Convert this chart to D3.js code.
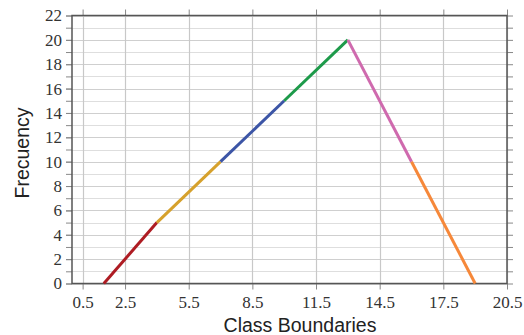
<!DOCTYPE html>
<html>
<head>
<meta charset="utf-8">
<script src="https://cdn.jsdelivr.net/npm/d3@7"></script>
<style>
  html, body { margin: 0; padding: 0; background: #fff; }
  svg { display: block; }
</style>
</head>
<body>
<svg id="chart" width="524" height="335"></svg>
<script>
// Data
const boundaries = [1.5, 4, 7, 10, 13, 16, 19];
const frequencies = [0, 5, 10, 15, 20, 10, 0];
const segmentColors = ["#ae1c23", "#d6a12c", "#3c55a6", "#1d9a4a", "#cf6aae", "#f6883a"];
const xTicks = [0.5, 2.5, 5.5, 8.5, 11.5, 14.5, 17.5, 20.5];
const yTicks = [0, 2, 4, 6, 8, 10, 12, 14, 16, 18, 20, 22];
const yMinorTicks = d3.range(0, 23, 1);
const xLabel = "Class Boundaries";
const yLabel = "Frecuency";

const svg = d3.select("#chart");
const L = 72, R = 507, T = 15.5, B = 283.5;

const x = d3.scaleLinear().domain([0, 20.5]).range([L, R]);
const y = d3.scaleLinear().domain([0, 22]).range([B, T]);

// horizontal gridlines
svg.append("g").selectAll("line").data(yMinorTicks).join("line")
  .attr("x1", L).attr("x2", R)
  .attr("y1", d => Math.round(y(d)) + 0.5).attr("y2", d => Math.round(y(d)) + 0.5)
  .attr("stroke", d => d % 2 === 0 ? "#cfcfcf" : "#dedede")
  .attr("stroke-width", 1.2);

// vertical gridlines
svg.append("g").selectAll("line").data(xTicks).join("line")
  .attr("x1", d => Math.round(x(d)) + 0.5).attr("x2", d => Math.round(x(d)) + 0.5)
  .attr("y1", T).attr("y2", B)
  .attr("stroke", "#c8c8c8")
  .attr("stroke-width", 1.2);

// Axes
const tickStyle = g => {
  g.select(".domain").remove();
  g.selectAll(".tick line").attr("stroke", "#888").attr("stroke-width", 1);
  g.selectAll(".tick text")
    .attr("font-family", "'Liberation Serif', 'DejaVu Serif', serif")
    .attr("font-size", 17).attr("fill", "#333");
};

// left axis: minor ticks
svg.append("g").attr("transform", `translate(${L},0)`)
  .call(d3.axisLeft(y).tickValues(yMinorTicks).tickSize(6).tickFormat(""))
  .call(tickStyle);
svg.append("g").attr("transform", `translate(${L},0)`)
  .call(d3.axisLeft(y).tickValues(yTicks).tickSize(6).tickPadding(4).tickFormat(d3.format("d")))
  .call(tickStyle);
// right axis ticks
svg.append("g").attr("transform", `translate(${R},0)`)
  .call(d3.axisRight(y).tickValues(yMinorTicks).tickSize(6).tickFormat(""))
  .call(tickStyle);
// bottom axis
svg.append("g").attr("transform", `translate(0,${B})`)
  .call(d3.axisBottom(x).tickValues(xTicks).tickSize(6).tickPadding(6).tickFormat(d3.format(".1f")))
  .call(tickStyle);
// top axis ticks
svg.append("g").attr("transform", `translate(0,${T})`)
  .call(d3.axisTop(x).tickValues(xTicks).tickSize(6).tickFormat(""))
  .call(tickStyle);

// frame
svg.append("rect")
  .attr("x", L).attr("y", T).attr("width", R - L).attr("height", B - T)
  .attr("fill", "none").attr("stroke", "#555").attr("stroke-width", 1.5);

// segments
const pts = boundaries.map((b, i) => [b, frequencies[i]]);
const segs = d3.pairs(pts);
svg.append("g").selectAll("line").data(segs).join("line")
  .attr("x1", d => x(d[0][0])).attr("y1", d => y(d[0][1]))
  .attr("x2", d => x(d[1][0])).attr("y2", d => y(d[1][1]))
  .attr("stroke", (d, i) => segmentColors[i])
  .attr("stroke-width", 3)
  .attr("stroke-linecap", "butt");

// axis titles
svg.append("text")
  .attr("x", 300).attr("y", 331.5)
  .attr("text-anchor", "middle")
  .attr("font-family", "'Liberation Sans', Arial, sans-serif")
  .attr("font-size", 19.5).attr("fill", "#222")
  .text(xLabel);
svg.append("text")
  .attr("transform", `translate(29,153) rotate(-90)`)
  .attr("text-anchor", "middle")
  .attr("font-family", "'Liberation Sans', Arial, sans-serif")
  .attr("font-size", 19.5).attr("fill", "#222")
  .text(yLabel);
</script>
</body>
</html>
